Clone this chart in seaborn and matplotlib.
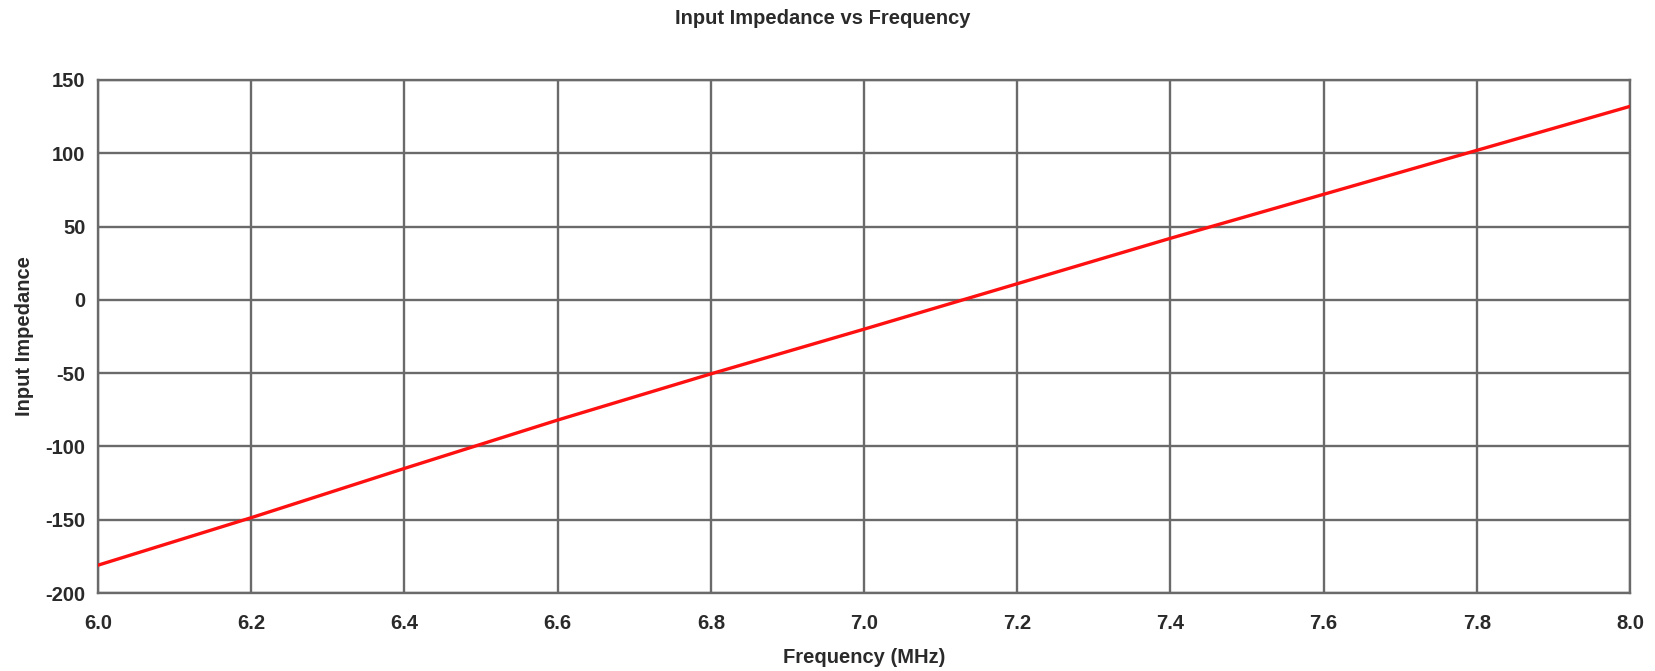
import matplotlib
matplotlib.use("Agg")
import matplotlib.pyplot as plt
import seaborn as sns
import pandas as pd

# Input impedance (reactance) sampled across the sweep
frequency_mhz = [6.0, 6.2, 6.4, 6.6, 6.8, 7.0, 7.2, 7.4, 7.6, 7.8, 8.0]
impedance = [-181, -148.6, -115, -82, -50.5, -20, 11, 42, 72, 102, 132]

x_ticks = [6.0, 6.2, 6.4, 6.6, 6.8, 7.0, 7.2, 7.4, 7.6, 7.8, 8.0]
y_ticks = [-200, -150, -100, -50, 0, 50, 100, 150]

df = pd.DataFrame({"Frequency (MHz)": frequency_mhz, "Input Impedance": impedance})

sns.set_theme(style="white")
plt.rcParams["font.family"] = ["Liberation Sans", "DejaVu Sans"]

fig = plt.figure(figsize=(16.56, 6.71), dpi=100)
ax = fig.add_axes([0.0592, 0.1162, 0.9251, 0.7646])

sns.lineplot(data=df, x="Frequency (MHz)", y="Input Impedance", ax=ax,
             color="#ff1010", linewidth=2.4, zorder=3)

ax.set_xlim(6.0, 8.0)
ax.set_ylim(-200, 150)
ax.set_xticks(x_ticks)
ax.set_xticklabels([f"{v:.1f}" for v in x_ticks])
ax.set_yticks(y_ticks)
ax.set_yticklabels([str(v) for v in y_ticks])

grid_color = "#6a6a6a"
text_color = "#2a2a2a"
ax.grid(True, color=grid_color, linewidth=1.7, zorder=1)
for side in ax.spines.values():
    side.set_visible(True)
    side.set_color(grid_color)
    side.set_linewidth(1.7)

ax.tick_params(axis="both", which="major", direction="out", length=4, width=1.6,
               color=grid_color, labelsize=14.5, labelcolor=text_color)
ax.tick_params(axis="x", pad=11)
ax.tick_params(axis="y", pad=5)
for lbl in ax.get_xticklabels() + ax.get_yticklabels():
    lbl.set_fontweight("bold")

ax.set_xlabel("Frequency (MHz)", fontsize=14.5, fontweight="bold", color=text_color, labelpad=11)
ax.set_ylabel("Input Impedance", fontsize=14.5, fontweight="bold", color=text_color, labelpad=8)
fig.text(0.5 - 0.003, 0.972, "Input Impedance vs Frequency", ha="center", va="center",
         fontsize=14.5, fontweight="bold", color=text_color)

fig.savefig("out.png", dpi=100, facecolor="white")
